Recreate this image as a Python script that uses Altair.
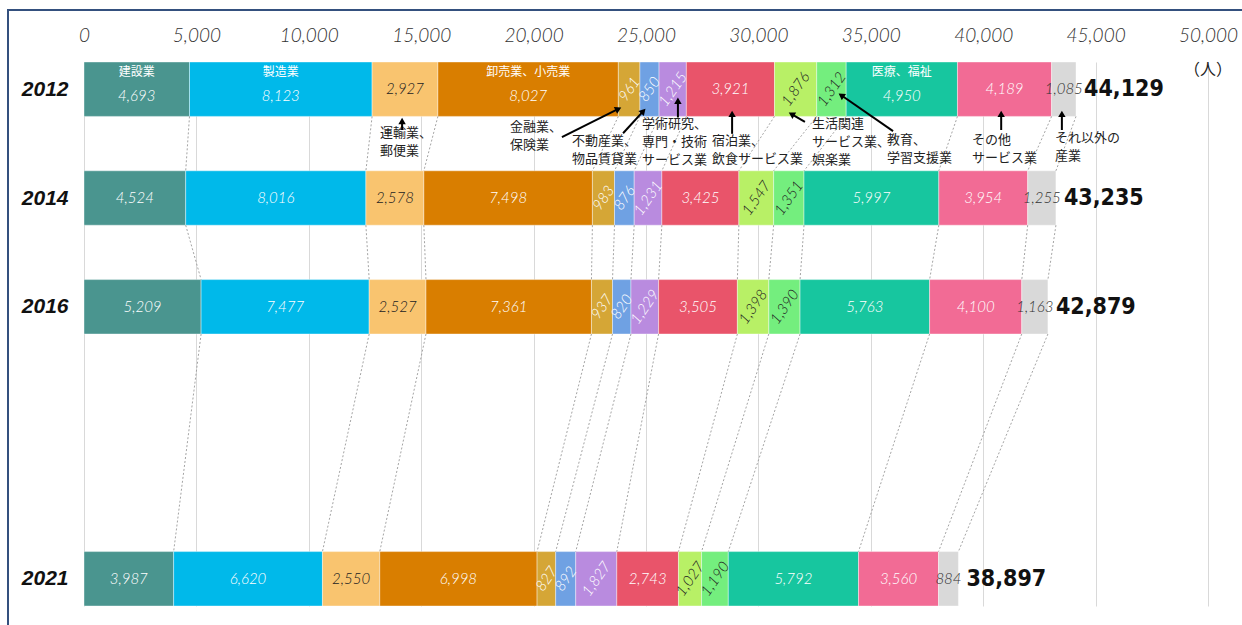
import math
import altair as alt
import pandas as pd

# ---- data -----------------------------------------------------------------
years = [2012, 2014, 2016, 2021]
categories = [
    "建設業", "製造業", "運輸業、郵便業", "卸売業、小売業", "金融業、保険業",
    "不動産業、物品賃貸業", "学術研究、専門・技術サービス業", "宿泊業、飲食サービス業",
    "生活関連サービス業、娯楽業", "教育、学習支援業", "医療、福祉", "その他サービス業",
    "それ以外の産業",
]
v2012 = [4693, 8123, 2927, 8027, 961, 850, 1215, 3921, 1876, 1312, 4950, 4189, 1085]
v2014 = [4524, 8016, 2578, 7498, 983, 876, 1231, 3425, 1547, 1351, 5997, 3954, 1255]
v2016 = [5209, 7477, 2527, 7361, 937, 820, 1229, 3505, 1398, 1390, 5763, 4100, 1163]
v2021 = [3987, 6620, 2550, 6998, 827, 892, 1827, 2743, 1027, 1190, 5792, 3560, 884]
values_by_year = [v2012, v2014, v2016, v2021]

# names printed inside the 2012 bar
names_2012 = ["建設業", "製造業", "", "卸売業、小売業", "", "", "", "", "", "", "医療、福祉", "", ""]

# ---- style ----------------------------------------------------------------
colors = ["#4A958F", "#00B9EA", "#F9C46F", "#D97E00", "#D5A636", "#6FA1E3", "#B98BDF",
          "#E9546A", "#B8F066", "#74EE7E", "#17C69F", "#F26B95", "#D9D9D9"]
label_colors = ["white", "white", "#222222", "white", "white", "white", "white",
                "white", "#222222", "#222222", "white", "white", "#333333"]
rotated = [False, False, False, False, True, True, True, False, True, True, False, False, False]

# callouts below the 2012 bar (positions in axis units: persons / year)
ann_text = ["運輸業、\n郵便業", "金融業、\n保険業", "不動産業、\n物品賃貸業",
            "学術研究、\n専門・技術\nサービス業", "宿泊業、\n飲食サービス業",
            "生活関連\nサービス業、\n娯楽業", "教育、\n学習支援業", "その他\nサービス業",
            "それ以外の\n産業"]
ann_x = [13170, 18950, 21710, 24820, 27940, 32380, 35720, 39500, 43190]
ann_y = [2012.70, 2012.59, 2012.84, 2012.53, 2012.84, 2012.53, 2012.82, 2012.82, 2012.79]
arrow_x1 = [14150, 21260, 23980, 26420, 28830, 32070, 35990, 40800, 43500]
arrow_y1 = [2012.75, 2012.88, 2012.81, 2012.52, 2012.82, 2012.60, 2012.77, 2012.75, 2012.75]
arrow_x2 = [14150, 23930, 25000, 26420, 28830, 31320, 33540, 40800, 43500]
arrow_y2 = [2012.51, 2012.33, 2012.35, 2012.14, 2012.38, 2012.42, 2012.07, 2012.38, 2012.38]

W, H = 1124, 544
X_MAX = 50000
Y_DOMAIN = [2011.5, 2021.5]
KX = W / X_MAX                        # px per person
KY = H / (Y_DOMAIN[1] - Y_DOMAIN[0])  # px per year

# ---- tables ---------------------------------------------------------------
rows = []
for yr, vals in zip(years, values_by_year):
    cum = 0
    for i, v in enumerate(vals):
        name = names_2012[i] if yr == 2012 else ""
        rows.append({
            "year": yr, "cat": categories[i], "idx": i, "value": v,
            "start": cum, "end": cum + v, "mid": cum + v / 2,
            "y0": yr - 0.5, "y1": yr + 0.5,
            "vy": yr + (0.13 if name else 0.0), "ny": yr - 0.31,
            "name": name, "rot": rotated[i], "tcolor": label_colors[i],
        })
        cum += v
seg = pd.DataFrame(rows)

totals = pd.DataFrame({"year": years, "total": [sum(v) for v in values_by_year]})

links = []
for a in range(len(years) - 1):
    ya, yb = years[a], years[a + 1]
    ea = seg[seg.year == ya].end.tolist()
    eb = seg[seg.year == yb].end.tolist()
    for i in range(len(categories)):
        links.append({"xa": ea[i], "xb": eb[i], "ya": ya + 0.5, "yb": yb - 0.5})
links = pd.DataFrame(links)

ann = pd.DataFrame({"text": ann_text, "x": ann_x, "y": ann_y})

heads, shafts = [], []
for x1, y1, x2, y2 in zip(arrow_x1, arrow_y1, arrow_x2, arrow_y2):
    dx, dy = (x2 - x1) * KX, (y2 - y1) * KY
    n = math.hypot(dx, dy)
    ux, uy = dx / n, dy / n
    hx, hy = x2 - ux * 4 / KX, y2 - uy * 4 / KY
    ang = math.degrees(math.atan2(dx, -dy)) % 360
    heads.append({"x": hx, "y": hy, "angle": ang})
    shafts.append({"x1": x1, "y1": y1, "x2": hx, "y2": hy})
heads = pd.DataFrame(heads)
shafts = pd.DataFrame(shafts)

# ---- scales ---------------------------------------------------------------
xs = alt.Scale(domain=[0, X_MAX], nice=False, zero=True)
ys = alt.Scale(domain=Y_DOMAIN, reverse=True, nice=False, zero=False)
cs = alt.Scale(domain=categories, range=colors)

NUM_FONT = "Lato"
CJK_FONT = "Noto Sans CJK JP"
TOTAL_FONT = "'DejaVu Sans Condensed', 'Liberation Sans', sans-serif"


def X(field):
    return alt.X(field, scale=xs, title=None)


def Y(field):
    return alt.Y(field, scale=ys, title=None)


bars = alt.Chart(seg).mark_bar(stroke="white", strokeWidth=0.4).encode(
    x=alt.X("start:Q", scale=xs, title=None,
            axis=alt.Axis(orient="top", values=list(range(0, 50001, 5000)),
                          labelExpr="format(datum.value, ',')",
                          labelFontStyle="italic", labelFont=NUM_FONT, labelFontSize=19,
                          labelFontWeight=300,
                          labelColor="#333333", labelPadding=17, labelFlush=False,
                          domain=False, ticks=False, grid=True, gridColor="#d9d9d9",
                          gridWidth=1)),
    x2="end:Q",
    y=alt.Y("y0:Q", scale=ys, title=None,
            axis=alt.Axis(values=years, labelExpr="format(datum.value, 'd')",
                          labelFont="Liberation Sans",
                          labelFontStyle="italic", labelFontWeight="bold", labelFontSize=21,
                          labelColor="#111111", labelPadding=16, domain=False,
                          ticks=False, grid=False)),
    y2="y1:Q",
    color=alt.Color("cat:N", scale=cs, legend=None),
)

connectors = alt.Chart(links).mark_rule(color="#9a9a9a", strokeWidth=0.9,
                                         strokeDash=[2, 2]).encode(
    x=X("xa:Q"), x2="xb:Q", y=Y("ya:Q"), y2="yb:Q",
)

flat_labels = alt.Chart(seg).transform_filter("!datum.rot").mark_text(
    font=NUM_FONT, fontStyle="italic", fontWeight=300, fontSize=15, baseline="middle",
    align="center"
).encode(
    x=X("mid:Q"), y=Y("vy:Q"),
    text=alt.Text("value:Q", format=","),
    color=alt.Color("tcolor:N", scale=None),
)

tilted_labels = alt.Chart(seg).transform_filter("datum.rot").mark_text(
    font=NUM_FONT, fontStyle="italic", fontWeight=300, fontSize=15, baseline="middle",
    align="center", angle=305
).encode(
    x=X("mid:Q"), y=Y("year:Q"),
    text=alt.Text("value:Q", format=","),
    color=alt.Color("tcolor:N", scale=None),
)

name_labels = alt.Chart(seg).transform_filter("datum.name != ''").mark_text(
    font=CJK_FONT, fontSize=12, color="white", baseline="middle", align="center"
).encode(
    x=X("mid:Q"), y=Y("ny:Q"), text="name:N",
)

total_labels = alt.Chart(totals).mark_text(
    font=TOTAL_FONT, fontWeight="bold", fontSize=23, align="left",
    baseline="middle", dx=8, color="#111111"
).encode(
    x=X("total:Q"), y=Y("year:Q"),
    text=alt.Text("total:Q", format=","),
)

unit_label = alt.Chart(pd.DataFrame({"x": [X_MAX], "y": [2011.65], "t": ["（人）"]})).mark_text(
    font=CJK_FONT, fontSize=16, color="#222222", align="center", baseline="middle"
).encode(
    x=X("x:Q"), y=Y("y:Q"), text="t:N",
)

callouts = alt.Chart(ann).mark_text(
    font=CJK_FONT, fontSize=13, color="#222222", align="left", baseline="top",
    lineBreak="\n", lineHeight=18
).encode(
    x=X("x:Q"), y=Y("y:Q"), text="text:N",
)

arrow_shafts = alt.Chart(shafts).mark_rule(color="black", strokeWidth=2).encode(
    x=X("x1:Q"), x2="x2:Q", y=Y("y1:Q"), y2="y2:Q",
)

arrow_heads = alt.Chart(heads).mark_point(
    shape="triangle-up", filled=True, color="black", size=55, opacity=1
).encode(
    x=X("x:Q"), y=Y("y:Q"),
    angle=alt.Angle("angle:Q", scale=None),
)

frame = alt.Chart(pd.DataFrame({"a": [0]})).mark_rect(
    filled=False, stroke="#34507E", strokeWidth=2
).encode(
    x=alt.value(-76), x2=alt.value(1160), y=alt.value(-52), y2=alt.value(600),
)

chart = alt.layer(
    bars, frame, connectors, flat_labels, tilted_labels, name_labels, total_labels,
    unit_label, callouts, arrow_shafts, arrow_heads,
).properties(
    width=W, height=H,
    autosize=alt.AutoSizeParams(type="none"),
    padding={"left": 84, "top": 62, "right": 34, "bottom": 19},
    background="white",
).configure_view(strokeWidth=0)

chart.save("out.html", embed_options={"renderer": "svg", "actions": False})
